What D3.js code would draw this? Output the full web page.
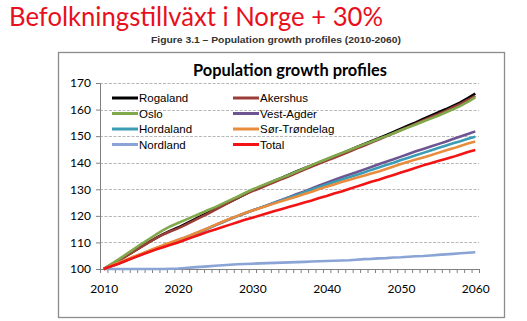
<!DOCTYPE html>
<html>
<head>
<meta charset="utf-8">
<script src="https://cdn.jsdelivr.net/npm/d3@7"></script>
<style>
  body { margin: 0; background: #fff; }
  svg { display: block; }
</style>
</head>
<body>
<svg width="527" height="321"></svg>
<script>
var svg = d3.select("svg"),
    width = +svg.attr("width"),
    height = +svg.attr("height");

// index values, 2010 = 100
var years = d3.range(2010, 2061);

var rogaland = [100,101.6,103.2,104.9,106.6,108.3,110,111.6,113.1,114.4,115.6,117,118.4,119.8,121.2,122.6,124,125.3,126.7,128.1,129.5,130.8,132,133.2,134.4,135.6,136.8,137.9,139,140.1,141.2,142.4,143.5,144.6,145.8,147,148.1,149.2,150.4,151.6,152.8,154,155.2,156.5,157.7,158.9,160.1,161.4,162.7,164.3,166];
var akershus = [100,101.5,103.1,104.8,106.5,108.2,109.9,111.5,113,114.2,115.3,116.6,118,119.4,120.8,122.3,123.8,125.3,126.8,128.1,129.3,130.4,131.6,132.7,133.9,135,136.2,137.4,138.6,139.7,140.8,141.9,143,144.1,145.3,146.4,147.6,148.7,149.9,151.1,152.3,153.5,154.7,155.9,157.1,158.3,159.5,160.8,162.1,163.6,165.2];
var oslo = [100,101.8,103.6,105.5,107.4,109.3,111.1,112.9,114.6,116.1,117.3,118.5,119.7,120.9,122.1,123.3,124.6,125.9,127.2,128.6,129.9,131.1,132.2,133.3,134.4,135.5,136.7,137.9,139.1,140.3,141.4,142.5,143.6,144.7,145.8,146.9,147.9,149,150,151.1,152.2,153.3,154.4,155.5,156.6,157.7,158.9,160.1,161.4,162.9,164.6];
var vestAgder = [100,101,102.1,103.2,104.3,105.4,106.5,107.5,108.5,109.5,110.5,111.6,112.8,114,115.2,116.4,117.6,118.8,119.9,121,122,123,124,125,126.1,127.1,128.2,129.2,130.3,131.4,132.5,133.5,134.5,135.5,136.4,137.4,138.4,139.4,140.4,141.3,142.3,143.3,144.3,145.2,146.1,147,147.9,148.9,149.9,150.8,151.8];
var hordaland = [100,101.1,102.2,103.3,104.4,105.5,106.6,107.7,108.7,109.8,110.8,111.9,113,114.1,115.3,116.5,117.7,118.8,119.9,121,122,123,123.9,124.9,125.9,126.9,127.9,128.9,129.9,130.9,131.8,132.7,133.6,134.5,135.4,136.3,137.3,138.2,139.1,140,141,141.9,142.8,143.7,144.6,145.5,146.4,147.3,148.1,149,149.8];
var sorTrondelag = [100,101.2,102.4,103.5,104.6,105.7,106.8,107.9,109,110,111,112,113.1,114.2,115.4,116.6,117.8,118.9,120,121.1,122,122.9,123.8,124.7,125.6,126.4,127.3,128.2,129.1,130.1,131,131.8,132.7,133.5,134.3,135.1,135.9,136.7,137.6,138.6,139.5,140.4,141.2,142,142.8,143.7,144.6,145.4,146.3,147.2,148];
var nordland = [100,100,100,100,100,100,100,100,100,100.1,100.2,100.4,100.6,100.8,101,101.2,101.4,101.6,101.8,101.9,102,102.1,102.2,102.3,102.4,102.5,102.6,102.7,102.8,102.9,103,103.1,103.2,103.3,103.5,103.7,103.8,104,104.1,104.3,104.4,104.6,104.8,104.9,105.1,105.3,105.5,105.7,105.9,106.1,106.3];
var total = [100,101,102,103.1,104.2,105.3,106.3,107.3,108.2,109.1,110,111,112,113,114,114.9,115.8,116.7,117.6,118.5,119.3,120.1,121,121.8,122.6,123.4,124.2,125,125.8,126.7,127.5,128.4,129.2,130.1,131,131.9,132.8,133.6,134.5,135.4,136.3,137.2,138.1,139,139.8,140.6,141.4,142.2,143.1,144,144.8];

var seriesNames = ["Rogaland", "Akershus", "Oslo", "Vest-Agder", "Hordaland", "Sør-Trøndelag", "Nordland", "Total"];
var seriesValues = [rogaland, akershus, oslo, vestAgder, hordaland, sorTrondelag, nordland, total];
var seriesColors = ["#000000", "#9a3d38", "#80a94b", "#6e5591", "#3b9db5", "#e88d3e", "#8aa4d6", "#f21414"];

var yTicks = [100, 110, 120, 130, 140, 150, 160, 170];
var xLabels = [2010, 2020, 2030, 2040, 2050, 2060];

svg.append("rect").attr("width", width).attr("height", height).attr("fill", "#fff");

// slide heading
svg.append("text")
    .attr("x", 9).attr("y", 26)
    .attr("textLength", 374).attr("lengthAdjust", "spacingAndGlyphs")
    .style("font-family", "Lato, 'Open Sans', sans-serif")
    .style("font-size", "26.5px")
    .attr("fill", "#e8101c")
    .text("Befolkningstillväxt i Norge + 30%");

svg.append("text")
    .attr("x", 276).attr("y", 43)
    .attr("text-anchor", "middle")
    .attr("textLength", 250).attr("lengthAdjust", "spacingAndGlyphs")
    .style("font-family", "'Liberation Sans', Arial, sans-serif")
    .style("font-size", "9px")
    .style("font-weight", "bold")
    .attr("fill", "#333")
    .text("Figure 3.1 – Population growth profiles (2010-2060)");

// chart frame
svg.append("rect")
    .attr("x", 58.5).attr("y", 52.5)
    .attr("width", 446).attr("height", 265)
    .attr("fill", "#fff")
    .attr("stroke", "#8c8c8c")
    .attr("stroke-width", 1.3);

svg.append("text")
    .attr("x", 290).attr("y", 76)
    .attr("text-anchor", "middle")
    .attr("textLength", 194).attr("lengthAdjust", "spacingAndGlyphs")
    .style("font-family", "Lato, 'Open Sans', sans-serif")
    .style("font-size", "17px")
    .style("font-weight", "bold")
    .attr("fill", "#000")
    .text("Population growth profiles");

var x0 = 100, x1 = 479, yTop = 83, yBot = 269;

var x = d3.scaleLinear().domain([2009.5, 2060.5]).range([x0, x1]);
var y = d3.scaleLinear().domain([100, 170]).range([yBot, yTop]);

// gridlines
svg.append("g")
  .selectAll("line")
  .data(yTicks.slice(1))
  .enter().append("line")
    .attr("x1", x0).attr("x2", x1)
    .attr("y1", function(d) { return Math.round(y(d)) + 0.5; })
    .attr("y2", function(d) { return Math.round(y(d)) + 0.5; })
    .attr("stroke", "#a6a6a6")
    .attr("stroke-width", 0.8)
    .attr("stroke-dasharray", "3,1.5");

// y axis
var yAxis = svg.append("g")
    .attr("transform", "translate(" + x0 + ",0)")
    .call(d3.axisLeft(y).tickValues(yTicks).tickSize(4).tickPadding(5));
yAxis.select(".domain").attr("stroke", "#808080");
yAxis.selectAll(".tick line").attr("stroke", "#808080");
yAxis.selectAll("text")
    .style("font-family", "Lato, 'Open Sans', sans-serif")
    .style("font-size", "12px")
    .attr("fill", "#000");

// x axis: tick marks on category edges, labels each decade
var edges = d3.range(2009.5, 2061, 1);
var xAxis = svg.append("g")
    .attr("transform", "translate(0," + yBot + ")")
    .call(d3.axisBottom(x).tickValues(edges).tickSize(4).tickFormat(""));
xAxis.select(".domain").attr("stroke", "#808080");
xAxis.selectAll(".tick line").attr("stroke", "#808080");

var xLab = svg.append("g")
    .attr("transform", "translate(0," + yBot + ")")
    .call(d3.axisBottom(x).tickValues(xLabels).tickSize(0).tickPadding(15).tickFormat(d3.format("d")));
xLab.select(".domain").remove();
xLab.selectAll("text")
    .style("font-family", "Lato, 'Open Sans', sans-serif")
    .style("font-size", "12px")
    .attr("fill", "#000");

// series
var line = d3.line()
    .x(function(d, i) { return x(years[i]); })
    .y(function(d) { return y(d); });

svg.append("g")
  .selectAll("path")
  .data(seriesValues)
  .enter().append("path")
    .attr("d", line)
    .attr("fill", "none")
    .attr("stroke", function(d, i) { return seriesColors[i]; })
    .attr("stroke-width", 2.6)
    .attr("stroke-linejoin", "round");

// legend, two columns
var legend = svg.append("g")
  .selectAll("g")
  .data(seriesNames)
  .enter().append("g")
    .attr("transform", function(d, i) {
      return "translate(" + (i % 2 ? 233 : 112) + "," + (98 + Math.floor(i / 2) * 15.5) + ")";
    });

legend.append("line")
    .attr("x1", 0).attr("x2", 26)
    .attr("stroke", function(d, i) { return seriesColors[i]; })
    .attr("stroke-width", 3);

legend.append("text")
    .attr("x", 27).attr("y", 4)
    .style("font-family", "'Liberation Sans', Arial, sans-serif")
    .style("font-size", "11.5px")
    .attr("fill", "#000")
    .text(function(d) { return d; });
</script>
</body>
</html>
